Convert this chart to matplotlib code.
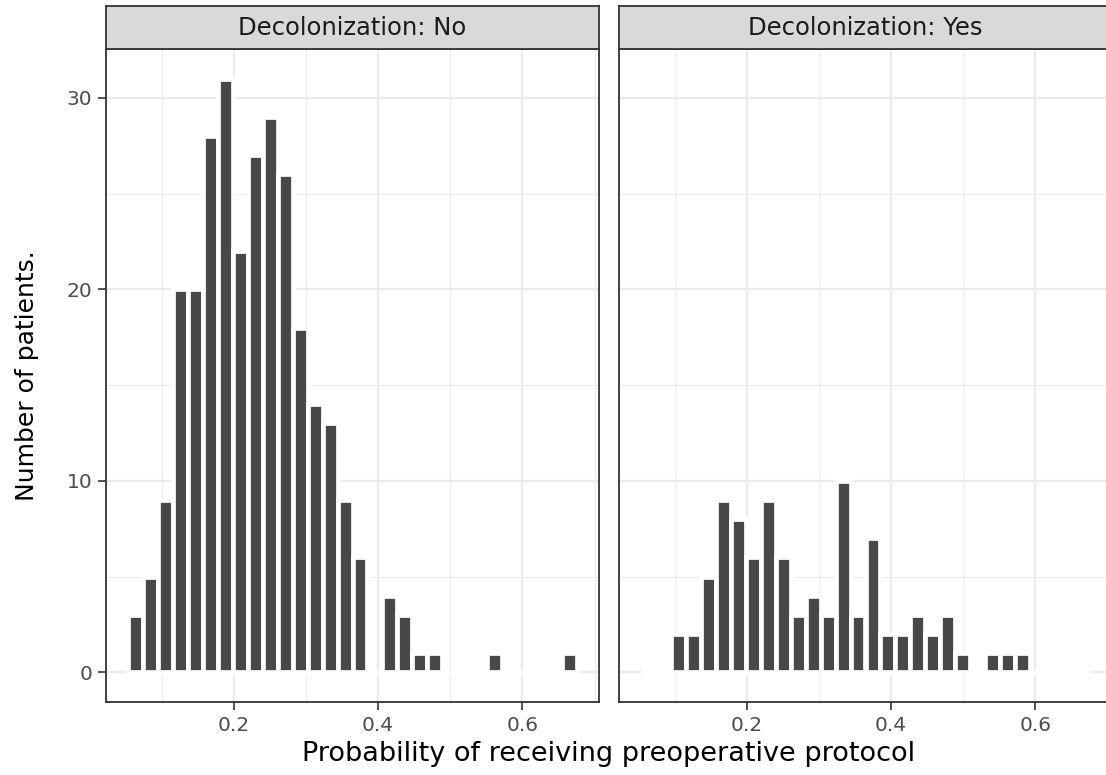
import numpy as np
import matplotlib.pyplot as plt

# histogram counts (30 shared bins)
facets = ["Decolonization: No", "Decolonization: Yes"]
bin_start = 0.054
bin_width = 0.0207
counts_no = [3, 5, 9, 20, 20, 28, 31, 22, 27, 29, 26, 18, 14, 13, 9, 6,
             0, 4, 3, 1, 1, 0, 0, 0, 1, 0, 0, 0, 0, 1]
counts_yes = [0, 0, 2, 2, 5, 9, 8, 6, 9, 6, 3, 4, 3, 10, 3, 7,
              2, 2, 3, 2, 3, 1, 0, 1, 1, 1, 0, 0, 0, 0]
x_ticks = [0.2, 0.4, 0.6]
y_ticks = [0, 10, 20, 30]

W, H = 1106, 775
fig = plt.figure(figsize=(W / 100, H / 100), dpi=100)

edges = bin_start + bin_width * np.arange(len(counts_no))
rng = bin_width * len(counts_no)
xlim = (bin_start - 0.05 * rng, bin_start + 1.05 * rng)
ymax = max(max(counts_no), max(counts_yes))
ylim = (-0.05 * ymax, 1.05 * ymax)

panel_left = [106, 619]
panel_w = 493
panel_top, panel_bot = 49, 702
strip_top = 6

for k, (name, counts) in enumerate(zip(facets, [counts_no, counts_yes])):
    l = panel_left[k] / W
    ax = fig.add_axes([l, 1 - panel_bot / H, panel_w / W, (panel_bot - panel_top) / H])
    ax.bar(edges, counts, width=bin_width, align='edge', color='#484848',
           edgecolor='white', linewidth=3.4, zorder=3)
    ax.set_xlim(xlim)
    ax.set_ylim(ylim)
    ax.set_xticks(x_ticks)
    ax.set_xticklabels([f"{v:.1f}" for v in x_ticks])
    ax.set_xticks([0.1, 0.3, 0.5, 0.7], minor=True)
    ax.set_yticks(y_ticks)
    ax.set_yticks([5, 15, 25], minor=True)
    ax.grid(which='major', color='#EBEBEB', lw=1.6, zorder=0)
    ax.grid(which='minor', color='#EBEBEB', lw=0.8, zorder=0)
    ax.set_axisbelow(True)
    for s in ax.spines.values():
        s.set_color('#333333')
        s.set_linewidth(1.3)
    ax.tick_params(which='major', length=6, width=1.2, color='#333333',
                   labelsize=14.5, labelcolor='#4D4D4D', pad=4)
    ax.tick_params(which='minor', length=0)
    if k > 0:
        ax.tick_params(axis='y', which='both', left=False, labelleft=False)

    # facet strip
    sx = fig.add_axes([l, 1 - panel_top / H, panel_w / W, (panel_top - strip_top) / H])
    sx.set_facecolor('#D9D9D9')
    sx.set_xticks([])
    sx.set_yticks([])
    for s in sx.spines.values():
        s.set_color('#333333')
        s.set_linewidth(1.3)
    sx.text(0.5, 0.48, name, ha='center', va='center', fontsize=17.5,
            color='#1A1A1A', transform=sx.transAxes)

fig.text(609 / W, 1 - 754 / H, "Probability of receiving preoperative protocol",
         ha='center', va='center', fontsize=19.5)
fig.text(27 / W, 1 - 376 / H, "Number of patients.", rotation=90,
         ha='center', va='center', fontsize=18)

plt.savefig("out.png", dpi=100)
